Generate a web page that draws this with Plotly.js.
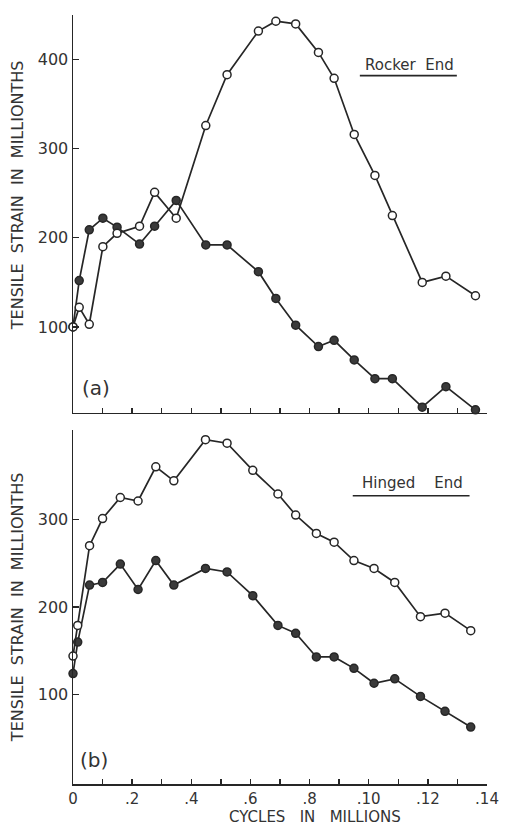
<!DOCTYPE html>
<html>
<head>
<meta charset="utf-8">
<script src="https://cdn.plot.ly/plotly-3.0.1.min.js"></script>
<style>
  html, body { margin: 0; padding: 0; background: #ffffff; }
  #chart { width: 507px; height: 830px; }
</style>
</head>
<body>
<div id="chart"></div>
<script>
// Cycles (millions) at which strain was read, per end condition
const cyclesRocker = [0, 0.0021, 0.0055, 0.0101, 0.0149, 0.0225, 0.0276, 0.0349, 0.0449, 0.0521, 0.0627,
                      0.0686, 0.0753, 0.0830, 0.0883, 0.0951, 0.1021, 0.1080, 0.1181, 0.1261, 0.1361];
const cyclesHinged = [0, 0.0016, 0.0056, 0.0100, 0.0160, 0.0220, 0.0280, 0.0341, 0.0448, 0.0521, 0.0608,
                      0.0693, 0.0753, 0.0823, 0.0883, 0.0950, 0.1018, 0.1088, 0.1175, 0.1258, 0.1345];

// (a) Rocker end: tensile strain in millionths
const rockerOpen   = [100, 122, 103, 190, 205, 213, 251, 222, 326, 383, 432,
                      443, 440, 408, 379, 316, 270, 225, 150, 157, 135];
const rockerFilled = [100, 152, 209, 222, 212, 193, 213, 242, 192, 192, 162,
                      132, 102, 78, 85, 63, 42, 42, 10, 33, 7];

// (b) Hinged end: tensile strain in millionths
const hingedOpen   = [144, 179, 270, 301, 325, 321, 360, 344, 391, 387, 356,
                      329, 305, 284, 274, 253, 244, 228, 189, 193, 173];
const hingedFilled = [124, 160, 225, 228, 249, 220, 253, 225, 244, 240, 213,
                      179, 170, 143, 143, 130, 113, 118, 98, 81, 63];

// Axis ticks
const xTickVals = [0, 0.01, 0.02, 0.03, 0.04, 0.05, 0.06, 0.07, 0.08, 0.09, 0.10, 0.11, 0.12, 0.13, 0.14];
const xTickText = ['0', '', '.2', '', '.4', '', '.6', '', '.8', '', '.10', '', '.12', '', '.14'];
const yTicksRocker = [100, 200, 300, 400];
const yTicksHinged = [100, 200, 300];

const INK = '#262626';
const TEXT = '#333333';
const FONT = 'DejaVu Sans, sans-serif';

function series(x, y, xa, ya, filled) {
  return {
    type: 'scatter', mode: 'lines+markers',
    x: x, y: y, xaxis: xa, yaxis: ya,
    line: { color: INK, width: 1.7 },
    marker: {
      symbol: 'circle', size: 8,
      color: filled ? '#3a3a3a' : '#ffffff',
      line: { color: INK, width: 1.5 }
    },
    cliponaxis: false,
    showlegend: false, hoverinfo: 'skip'
  };
}

const data = [
  series(cyclesRocker, rockerFilled, 'x', 'y', true),
  series(cyclesRocker, rockerOpen, 'x', 'y', false),
  series(cyclesHinged, hingedFilled, 'x2', 'y2', true),
  series(cyclesHinged, hingedOpen, 'x2', 'y2', false)
];

const xBase = {
  range: [0, 0.14], showgrid: false, zeroline: false,
  showline: true, linecolor: INK, linewidth: 1.5,
  ticks: 'inside', ticklen: 5, tickwidth: 1.3, tickcolor: INK,
  tickmode: 'array', tickvals: xTickVals, ticktext: xTickText,
  tickfont: { family: FONT, size: 15, color: TEXT },
  fixedrange: true
};
const yBase = {
  showgrid: false, zeroline: false,
  showline: true, linecolor: INK, linewidth: 1.5,
  ticks: 'inside', ticklen: 6, tickwidth: 1.3, tickcolor: INK,
  tickmode: 'array',
  tickfont: { family: FONT, size: 16, color: TEXT },
  fixedrange: true
};

const annFont = { family: FONT, size: 15, color: TEXT };
const titleFont = { family: FONT, size: 16, color: TEXT };
const NB = '\u00a0';

const layout = {
  width: 507, height: 830,
  margin: { l: 73, r: 20, t: 15, b: 46 },
  paper_bgcolor: '#ffffff', plot_bgcolor: '#ffffff',
  font: { family: FONT, color: TEXT },
  xaxis: Object.assign({}, xBase, { anchor: 'y', showticklabels: false }),
  yaxis: Object.assign({}, yBase, { domain: [0.4825, 1], range: [3.5, 450], tickvals: yTicksRocker, anchor: 'x' }),
  xaxis2: Object.assign({}, xBase, { anchor: 'y2' }),
  yaxis2: Object.assign({}, yBase, { domain: [0, 0.4603], range: [-2, 402], tickvals: yTicksHinged, anchor: 'x2' }),
  annotations: [
    { xref: 'x', yref: 'y', x: 0.1139, y: 394, text: 'Rocker' + NB + NB + 'End', showarrow: false, font: annFont },
    { xref: 'x2', yref: 'y2', x: 0.1149, y: 341, text: 'Hinged' + NB + NB + NB + NB + 'End', showarrow: false, font: annFont },
    { xref: 'x', yref: 'y', x: 0.0077, y: 32, text: '(a)', showarrow: false, font: { family: FONT, size: 20, color: TEXT } },
    { xref: 'x2', yref: 'y2', x: 0.0070, y: 25, text: '(b)', showarrow: false, font: { family: FONT, size: 20, color: TEXT } },
    { xref: 'paper', yref: 'y', x: -0.135, y: 248, xanchor: 'center', textangle: -90,
      text: 'TENSILE' + NB + NB + 'STRAIN' + NB + NB + 'IN' + NB + NB + 'MILLIONTHS', showarrow: false, font: titleFont },
    { xref: 'paper', yref: 'y2', x: -0.135, y: 200, xanchor: 'center', textangle: -90,
      text: 'TENSILE' + NB + NB + 'STRAIN' + NB + NB + 'IN' + NB + NB + 'MILLIONTHS', showarrow: false, font: titleFont },
    { xref: 'x2', yref: 'paper', x: 0.0820, y: -0.0435, yanchor: 'middle',
      text: 'CYCLES' + NB + NB + NB + 'IN' + NB + NB + NB + 'MILLIONS', showarrow: false, font: { family: FONT, size: 15, color: TEXT } }
  ],
  shapes: [
    { type: 'line', xref: 'x', yref: 'y', x0: 0.0970, x1: 0.1298, y0: 382, y1: 382, line: { color: INK, width: 1.6 } },
    { type: 'line', xref: 'x2', yref: 'y2', x0: 0.0946, x1: 0.1341, y0: 327, y1: 327, line: { color: INK, width: 1.6 } }
  ]
};

Plotly.newPlot('chart', data, layout, { staticPlot: true, displayModeBar: false });
</script>
</body>
</html>
